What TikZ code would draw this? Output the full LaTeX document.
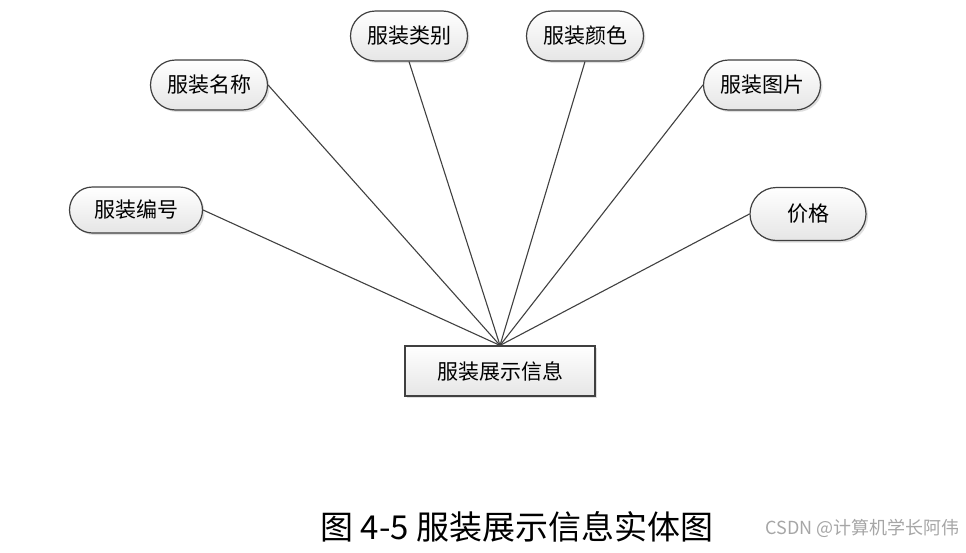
\documentclass[tikz,border=0pt]{standalone}
\usepackage{fontspec}
\newfontfamily\cjk{Noto Sans CJK SC}
\usetikzlibrary{shapes.misc,shadows}
\begin{document}
\begin{tikzpicture}[x=1pt,y=-1pt,
  attr/.style={rounded rectangle, draw=black!75, line width=1.2pt, minimum height=50, minimum width=117,
    top color=white, bottom color=black!10, drop shadow={shadow xshift=2pt,shadow yshift=-2pt,fill=black!25},
    font=\cjk\fontsize{21}{24}\selectfont, inner sep=0pt},
  ent/.style={rectangle, draw=black!75, line width=1.2pt, minimum height=50, minimum width=190,
    top color=white, bottom color=black!10, drop shadow={shadow xshift=2pt,shadow yshift=-2pt,fill=black!25},
    font=\cjk\fontsize{21}{24}\selectfont, inner sep=0pt},
  link/.style={draw=black!75, line width=1.1pt}]
\useasboundingbox (0,0) rectangle (966,552);
\node[ent] (e) at (500,371) {服装展示信息};
\coordinate (hub) at (e.north);
\node[attr, minimum width=133, minimum height=46] (a1) at (136,210) {服装编号};
\node[attr] (a2) at (209,85) {服装名称};
\node[attr] (a3) at (409,36) {服装类别};
\node[attr] (a4) at (585,36) {服装颜色};
\node[attr] (a5) at (762,85) {服装图片};
\node[attr, minimum width=116, minimum height=53] (a6) at (808,214) {价格};
\draw[link] (a1.east) -- (hub);
\draw[link] (a2.east) -- (hub);
\draw[link] (a3.south) -- (hub);
\draw[link] (a4.south) -- (hub);
\draw[link] (a5.west) -- (hub);
\draw[link] (a6.west) -- (hub);
\node[font=\cjk\fontsize{33}{37}\selectfont] (cap) at (517,527) {图 4-5 服装展示信息实体图};
\node[font=\cjk\fontsize{18}{21}\selectfont, text=black!35, anchor=east] (wm) at (963,528) {CSDN @计算机学长阿伟};
\end{tikzpicture}
\end{document}
